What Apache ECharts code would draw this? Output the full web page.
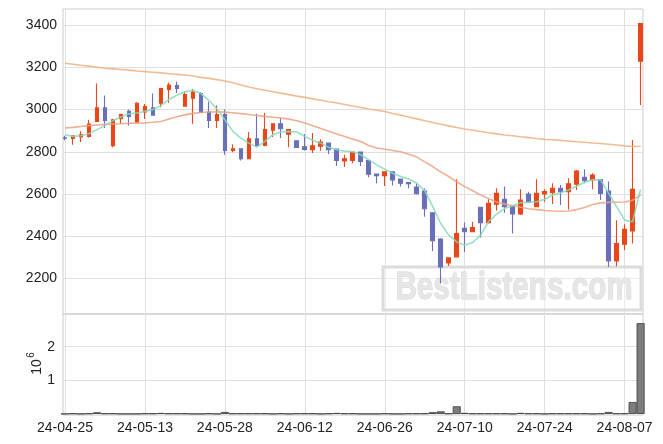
<!DOCTYPE html>
<html><head><meta charset="utf-8">
<script src="https://cdn.jsdelivr.net/npm/echarts@6/dist/echarts.min.js"></script>
<style>html,body{margin:0;padding:0;background:#fff}#c{width:663px;height:444px}</style>
</head><body><div id="c"></div>
<script>
const dates = ['24-04-25','24-04-26','24-04-29','24-04-30','24-05-02','24-05-03','24-05-07','24-05-08','24-05-09','24-05-10',
'24-05-13','24-05-14','24-05-16','24-05-17','24-05-20','24-05-21','24-05-22','24-05-23','24-05-24','24-05-27',
'24-05-28','24-05-29','24-05-30','24-05-31','24-06-03','24-06-04','24-06-05','24-06-07','24-06-10','24-06-11',
'24-06-12','24-06-13','24-06-14','24-06-17','24-06-18','24-06-19','24-06-20','24-06-21','24-06-24','24-06-25',
'24-06-26','24-06-27','24-06-28','24-07-01','24-07-02','24-07-03','24-07-04','24-07-05','24-07-08','24-07-09',
'24-07-10','24-07-11','24-07-12','24-07-15','24-07-16','24-07-17','24-07-18','24-07-19','24-07-22','24-07-23',
'24-07-24','24-07-25','24-07-26','24-07-29','24-07-30','24-07-31','24-08-01','24-08-02','24-08-05','24-08-06',
'24-08-07','24-08-08','24-08-09'];
const opens = [2866,2863,2870,2873,2944,3008,2829,2957,2992,2941,
2989,3008,3030,3095,3114,3016,3054,3076,2989,2949,
2976,2806,2814,2767,2862,2830,2902,2933,2883,2852,
2824,2810,2826,2841,2813,2757,2759,2799,2759,2695,
2687,2705,2671,2654,2633,2614,2511,2386,2273,2302,
2437,2421,2537,2464,2552,2575,2543,2505,2600,2540,
2600,2606,2627,2611,2646,2679,2667,2667,2614,2283,
2362,2425,3230];
const closes = [2864,2876,2881,2932,3008,2949,2952,2976,2968,3030,
3014,2973,3100,3116,3100,3071,3083,2987,2949,2976,
2806,2814,2767,2862,2830,2905,2933,2909,2905,2821,
2811,2829,2846,2810,2759,2767,2799,2754,2694,2687,
2705,2667,2651,2649,2601,2530,2378,2254,2297,2413,
2421,2441,2464,2556,2603,2540,2505,2571,2563,2603,
2611,2627,2611,2648,2709,2663,2690,2603,2283,2365,
2432,2622,3408];
const lows = [2855,2833,2846,2868,2944,2913,2822,2933,2925,2937,
2956,2973,3011,3032,3079,3016,2933,2984,2913,2913,
2786,2798,2759,2767,2826,2826,2870,2865,2822,2821,
2806,2794,2805,2790,2733,2728,2746,2733,2679,2651,
2638,2640,2635,2627,2597,2492,2330,2176,2259,2302,
2325,2419,2394,2460,2520,2511,2413,2500,2559,2540,
2563,2552,2548,2527,2619,2651,2622,2571,2254,2257,
2333,2365,3022];
const highs = [2876,2878,2897,2952,3124,3067,2957,2980,3000,3035,
3027,3076,3103,3127,3133,3087,3098,3084,3037,3019,
3000,2836,2816,2894,2980,2984,2935,2960,2908,2852,
2884,2889,2860,2843,2815,2786,2800,2800,2760,2697,
2707,2707,2673,2656,2651,2627,2513,2390,2300,2670,
2465,2468,2540,2575,2627,2635,2545,2622,2611,2670,
2622,2651,2643,2675,2714,2717,2698,2670,2659,2476,
2457,2856,3410];
const ma5 = [2881,2873,2876,2886,2905,2924,2948,2965,2980,2984,
2992,3000,3019,3048,3068,3084,3092,3076,3044,3003,
2952,2897,2865,2841,2822,2849,2881,2894,2897,2894,
2873,2854,2841,2821,2810,2803,2800,2786,2762,2738,
2717,2698,2683,2671,2651,2616,2540,2460,2405,2373,
2357,2370,2405,2470,2505,2532,2543,2559,2560,2563,
2575,2595,2606,2619,2638,2656,2667,2667,2603,2540,
2476,2468,2622];
const ma20 = [2913,2916,2920,2924,2927,2930,2932,2933,2935,2936,
2937,2940,2944,2955,2966,2975,2982,2986,2989,2990,
2988,2985,2981,2977,2972,2968,2964,2960,2955,2947,
2937,2924,2910,2897,2884,2872,2860,2849,2830,2818,
2812,2806,2800,2788,2775,2752,2730,2705,2683,2658,
2635,2615,2595,2578,2562,2552,2545,2537,2530,2526,
2522,2519,2518,2519,2526,2536,2550,2558,2560,2561,
2562,2570,2595];
const ma120 = [3220,3215,3210,3206,3201,3196,3193,3190,3187,3183,
3180,3177,3174,3170,3167,3164,3159,3153,3148,3142,
3136,3127,3117,3107,3099,3092,3085,3078,3071,3064,
3058,3051,3044,3037,3031,3024,3017,3010,3003,2997,
2991,2982,2974,2965,2956,2947,2939,2931,2923,2915,
2908,2902,2896,2890,2885,2880,2876,2871,2867,2863,
2859,2857,2854,2851,2848,2845,2842,2839,2836,2832,
2828,2825,2826];
const volumes = [0,0.012,0,0.012,0.047,0.012,0.012,0,0,0,
0.012,0.012,0.027,0.012,0.012,0.012,0,0,0.012,0,
0.056,0.012,0.012,0.012,0.012,0.012,0,0.012,0,0.012,
0.012,0.012,0,0.012,0.027,0.012,0.012,0,0,0,
0.012,0,0,0.012,0.012,0.012,0.05,0.075,0.012,0.225,
0.03,0.012,0.012,0.012,0.012,0.012,0,0.03,0.012,0.012,
0,0.012,0.012,0.012,0.012,0.012,0,0.012,0.056,0.012,
0.012,0.353,2.70];
const priceTicks = [2200,2400,2600,2800,3000,3200,3400];
const volTicks = [1,2];
const dateTickIdx = [0,10,20,30,40,50,60,70];

const UP = '#e8471a', DOWN = '#6a70b8';
const idx = dates.map((d, i) => i);
const candleData = idx.map(i => [i, opens[i], closes[i], lows[i], highs[i]]);
const pair = arr => idx.map(i => [i, arr[i]]);

const chart = echarts.init(document.getElementById('c'), null, {renderer: 'canvas'});
const gridLine = {show: true, lineStyle: {color: '#e0e0e0', width: 1}};
const labelFont = {fontSize: 14, color: '#222', fontFamily: '"Liberation Sans", Arial, sans-serif'};
chart.setOption({
  animation: false,
  grid: [
    {left: 63, width: 580, top: 9, height: 305, show: true, borderColor: '#cccccc', borderWidth: 1, backgroundColor: 'transparent'},
    {left: 63, width: 580, top: 314, height: 101, show: true, borderColor: '#cccccc', borderWidth: 1, backgroundColor: 'transparent'}
  ],
  xAxis: [
    {type: 'value', gridIndex: 0, min: -0.25, max: 72.3, axisLine: {show: false},
     axisTick: {show: false, customValues: dateTickIdx}, axisLabel: {show: false, customValues: dateTickIdx}, splitLine: gridLine},
    {type: 'value', gridIndex: 1, min: -0.25, max: 72.3, axisLine: {show: false},
     axisTick: {show: false, customValues: dateTickIdx},
     axisLabel: Object.assign({show: true, customValues: dateTickIdx, margin: 6, formatter: v => dates[Math.round(v)]}, labelFont),
     splitLine: gridLine}
  ],
  yAxis: [
    {type: 'value', gridIndex: 0, min: 2031, max: 3477, axisLine: {show: false},
     axisTick: {show: false, customValues: priceTicks},
     axisLabel: Object.assign({customValues: priceTicks, margin: 6, formatter: v => String(Math.round(v))}, labelFont), splitLine: gridLine},
    {type: 'value', gridIndex: 1, min: -0.033, max: 2.973, axisLine: {show: false},
     axisTick: {show: false, customValues: volTicks},
     axisLabel: Object.assign({customValues: volTicks, margin: 8, formatter: v => String(Math.round(v))}, labelFont), splitLine: gridLine}
  ],
  graphic: [
    {type: 'rect', z: 1, shape: {x: 383, y: 267, width: 258, height: 43},
     style: {fill: 'rgba(255,255,255,0.35)', stroke: '#dcdcdc', lineWidth: 3}},
    {type: 'text', z: 1, x: 514, y: 289, scaleX: 0.78,
     style: {text: 'BestListens.com', font: 'bold 38px "Liberation Sans", Arial, sans-serif', fill: '#e6e6e6', stroke: '#d4d4d4', lineWidth: 1, textAlign: 'center', textVerticalAlign: 'middle'}},
    {type: 'text', x: 37, y: 367, rotation: Math.PI / 2,
     style: {text: '10', font: '14px "Liberation Sans", Arial, sans-serif', fill: '#222', textAlign: 'center', textVerticalAlign: 'middle'}},
    {type: 'text', x: 31, y: 355, rotation: Math.PI / 2,
     style: {text: '6', font: '10px "Liberation Sans", Arial, sans-serif', fill: '#222', textAlign: 'center', textVerticalAlign: 'middle'}}
  ],
  series: [
    {type: 'candlestick', xAxisIndex: 0, yAxisIndex: 0, z: 2,
     dimensions: ['idx', 'open', 'close', 'lowest', 'highest'],
     encode: {x: 'idx', y: ['open', 'close', 'lowest', 'highest']},
     data: candleData, barWidth: 4.2,
     itemStyle: {color: UP, color0: DOWN, borderColor: UP, borderColor0: DOWN, borderWidth: 1.1}},
    {type: 'line', xAxisIndex: 0, yAxisIndex: 0, z: 3, data: pair(ma120), showSymbol: false, silent: true,
     lineStyle: {color: '#f0b080', width: 1.6, opacity: 0.85}},
    {type: 'line', xAxisIndex: 0, yAxisIndex: 0, z: 3, data: pair(ma20), showSymbol: false, silent: true,
     lineStyle: {color: '#f0a080', width: 1.6, opacity: 0.85}},
    {type: 'line', xAxisIndex: 0, yAxisIndex: 0, z: 3, data: pair(ma5), showSymbol: false, silent: true,
     lineStyle: {color: '#86d9bb', width: 1.6, opacity: 0.85}},
    {type: 'bar', xAxisIndex: 1, yAxisIndex: 1, data: pair(volumes), barWidth: 8,
     itemStyle: {color: '#7d7d7d', borderColor: '#3a3a3a', borderWidth: 0.8}}
  ]
});
</script></body></html>
